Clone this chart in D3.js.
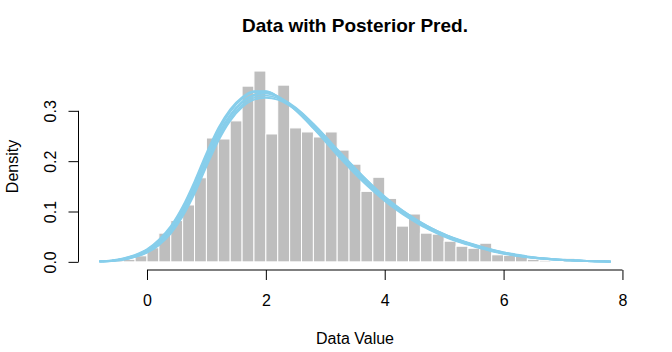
<!DOCTYPE html>
<html>
<head>
<meta charset="utf-8" />
<style>
  html, body { margin: 0; padding: 0; background: #fff; }
  svg text { font-family: "Liberation Sans", Arial, sans-serif; fill: #000; }
  .bar { fill: #bebebe; stroke: #fff; stroke-width: 1; }
  .pred { fill: none; stroke: #87ceeb; stroke-width: 1.8; }
  .axis line, .axis path { stroke: #000; }
</style>
</head>
<body>
<div id="vis"></div>
<script src="https://d3js.org/d3.v7.min.js"></script>
<script>
// histogram bins (left edges, width 0.2) and densities
var binLeft = [-0.8,-0.6,-0.4,-0.2,0.0,0.2,0.4,0.6,0.8,1.0,1.2,1.4,1.6,1.8,2.0,2.2,2.4,2.6,2.8,3.0,3.2,3.4,3.6,3.8,
               4.0,4.2,4.4,4.6,4.8,5.0,5.2,5.4,5.6,5.8,6.0,6.2,6.4,6.6,6.8,7.0,7.2,7.4,7.6];
var binWidth = 0.2;
var binDensity = [0.003,0.005,0.005,0.012,0.028,0.057,0.082,0.113,0.167,0.246,0.244,0.280,0.349,0.379,0.254,0.351,0.266,0.258,0.248,0.258,0.222,0.194,0.140,0.168,
                  0.126,0.071,0.095,0.057,0.055,0.041,0.031,0.027,0.037,0.014,0.013,0.012,0.005,0.003,0.002,0.007,0.002,0.000,0.002];

// posterior predictive curves, evaluated on the same grid
var gridX = [-0.8,-0.6,-0.4,-0.2,0.0,0.2,0.4,0.6,0.8,1.0,1.2,1.4,1.6,1.8,2.0,2.2,2.4,2.6,2.8,3.0,3.2,3.4,3.6,3.8,
             4.0,4.2,4.4,4.6,4.8,5.0,5.2,5.4,5.6,5.8,6.0,6.2,6.4,6.6,6.8,7.0,7.2,7.4,7.6,7.8];
var pred1 = [0.001,0.002,0.006,0.012,0.021,0.038,0.062,0.099,0.146,0.203,0.254,0.292,0.318,0.332,0.336,0.328,0.313,0.295,0.270,0.245,0.218,0.194,0.170,0.147,
             0.126,0.108,0.092,0.077,0.064,0.054,0.045,0.037,0.030,0.023,0.018,0.013,0.010,0.007,0.005,0.0035,0.0025,0.0015,0.001,0.0005];
var pred2 = [0.001,0.003,0.007,0.014,0.025,0.044,0.071,0.110,0.160,0.216,0.266,0.303,0.327,0.339,0.339,0.329,0.312,0.290,0.265,0.239,0.212,0.187,0.163,0.141,
             0.121,0.103,0.087,0.073,0.061,0.050,0.041,0.034,0.027,0.021,0.016,0.012,0.009,0.007,0.005,0.0035,0.0025,0.0015,0.001,0.0005];
var pred3 = [0.0005,0.0015,0.004,0.010,0.018,0.033,0.056,0.090,0.135,0.189,0.240,0.280,0.307,0.322,0.326,0.322,0.310,0.293,0.272,0.248,0.223,0.198,0.174,0.151,
             0.130,0.111,0.094,0.079,0.066,0.055,0.046,0.038,0.031,0.025,0.019,0.015,0.011,0.008,0.006,0.004,0.003,0.002,0.0012,0.0007];
var pred4 = [0.001,0.002,0.005,0.011,0.020,0.036,0.060,0.096,0.142,0.197,0.249,0.289,0.316,0.330,0.334,0.328,0.315,0.297,0.274,0.249,0.222,0.197,0.172,0.149,
             0.128,0.109,0.093,0.078,0.065,0.054,0.045,0.037,0.030,0.024,0.018,0.014,0.010,0.0075,0.0055,0.004,0.0028,0.0018,0.001,0.0006];
var pred5 = [0.001,0.002,0.006,0.012,0.022,0.040,0.066,0.104,0.152,0.208,0.259,0.298,0.324,0.337,0.338,0.328,0.311,0.290,0.266,0.241,0.215,0.190,0.166,0.144,
             0.123,0.105,0.089,0.075,0.062,0.052,0.042,0.035,0.028,0.022,0.017,0.013,0.0095,0.007,0.005,0.0035,0.0024,0.0015,0.001,0.0005];
var pred6 = [0.0008,0.002,0.005,0.010,0.019,0.034,0.058,0.093,0.139,0.193,0.244,0.284,0.311,0.326,0.330,0.325,0.313,0.296,0.274,0.250,0.224,0.199,0.174,0.151,
             0.129,0.110,0.094,0.079,0.066,0.055,0.045,0.037,0.030,0.024,0.019,0.014,0.010,0.0078,0.0058,0.0042,0.003,0.0019,0.0011,0.0006];
var pred7 = [0.001,0.0025,0.0065,0.013,0.024,0.042,0.068,0.106,0.155,0.211,0.262,0.300,0.325,0.338,0.338,0.329,0.313,0.293,0.268,0.242,0.216,0.191,0.167,0.145,
             0.124,0.106,0.090,0.076,0.063,0.052,0.043,0.035,0.028,0.022,0.017,0.013,0.0095,0.007,0.005,0.0035,0.0025,0.0015,0.001,0.0005];
var predCurves = [pred1, pred2, pred3, pred4, pred5, pred6, pred7];

var xTicks = [0, 2, 4, 6, 8];
var yTicks = [0.0, 0.1, 0.2, 0.3];

(function() {
  var W = 672, H = 352;
  var left = 79, right = 631, top = 63.5, bottom = 269.5;

  var svg = d3.select("#vis").append("svg").attr("width", W).attr("height", H);

  var x = d3.scaleLinear().domain([-1.144, 8.144]).range([left, right]);
  var y = d3.scaleLinear().domain([-0.0152, 0.394]).range([bottom, top]);

  // bars
  svg.append("g").selectAll("rect")
      .data(binLeft)
    .enter().append("rect").attr("class", "bar")
      .attr("x", function(d) { return x(d); })
      .attr("width", function(d) { return x(d + binWidth) - x(d); })
      .attr("y", function(d, i) { return y(binDensity[i]); })
      .attr("height", function(d, i) { return y(0) - y(binDensity[i]); });

  // curves
  var line = d3.line()
      .x(function(d, i) { return x(gridX[i]); })
      .y(function(d) { return y(d); })
      .curve(d3.curveMonotoneX);

  svg.append("g").selectAll("path")
      .data(predCurves)
    .enter().append("path").attr("class", "pred")
      .attr("d", line);

  // x axis
  var xa = svg.append("g").attr("class", "axis")
      .attr("transform", "translate(0," + (bottom + 0.5) + ")")
      .call(d3.axisBottom(x).tickValues(xTicks).tickSize(10).tickSizeOuter(0).tickFormat(d3.format("d")));
  xa.select(".domain").remove();
  xa.append("line").attr("x1", x(xTicks[0])).attr("x2", x(xTicks[xTicks.length - 1]));
  xa.selectAll("text").attr("y", 36).attr("dy", null).style("font-size", "16px");

  // y axis
  var ya = svg.append("g").attr("class", "axis")
      .attr("transform", "translate(" + (left - 0.5) + ",0)")
      .call(d3.axisLeft(y).tickValues(yTicks).tickSize(10).tickSizeOuter(0).tickFormat(d3.format(".1f")));
  ya.select(".domain").remove();
  ya.append("line").attr("y1", y(yTicks[0])).attr("y2", y(yTicks[yTicks.length - 1]));
  ya.selectAll("text")
      .attr("x", null).attr("dy", null)
      .attr("text-anchor", "middle")
      .attr("transform", "translate(-22.5,0) rotate(-90)")
      .attr("y", 0)
      .style("font-size", "16px");

  // titles
  svg.append("text").attr("x", (left + right) / 2).attr("y", 31.5)
      .attr("text-anchor", "middle").style("font-size", "19px").style("font-weight", "bold")
      .text("Data with Posterior Pred.");
  svg.append("text").attr("x", (left + right) / 2).attr("y", 344)
      .attr("text-anchor", "middle").style("font-size", "16px")
      .text("Data Value");
  svg.append("text").attr("transform", "translate(18," + ((top + bottom) / 2) + ") rotate(-90)")
      .attr("text-anchor", "middle").style("font-size", "16px")
      .text("Density");
})();
</script>
</body>
</html>
